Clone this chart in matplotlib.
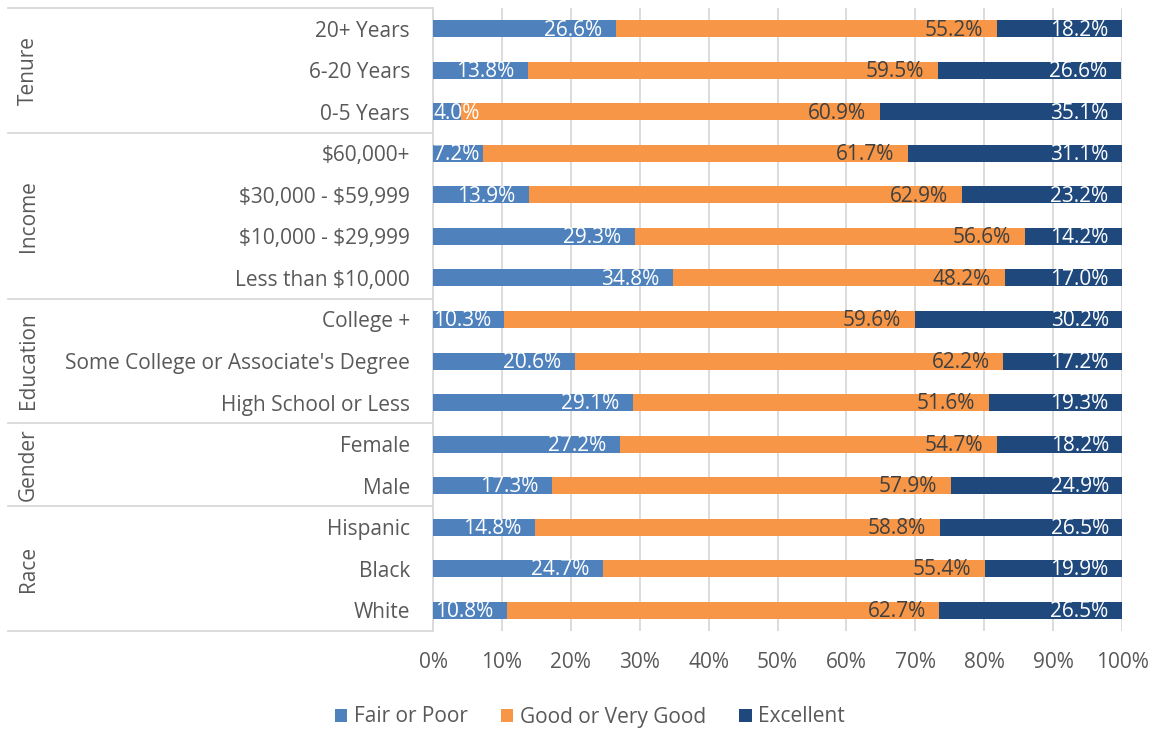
import matplotlib
matplotlib.use('Agg')
import matplotlib.pyplot as plt
import numpy as np

plt.rcParams['font.family'] = ['Open Sans', 'DejaVu Sans']
plt.rcParams['text.parse_math'] = False

# rows listed top to bottom
categories = [
    "20+ Years", "6-20 Years", "0-5 Years",
    "$60,000+", "$30,000 - $59,999", "$10,000 - $29,999", "Less than $10,000",
    "College +", "Some College or Associate's Degree", "High School or Less",
    "Female", "Male",
    "Hispanic", "Black", "White",
]
groups = ["Tenure", "Income", "Education", "Gender", "Race"]
group_sizes = [3, 4, 3, 2, 3]

fair = [26.6, 13.8, 4.0, 7.2, 13.9, 29.3, 34.8, 10.3, 20.6, 29.1, 27.2, 17.3, 14.8, 24.7, 10.8]
good = [55.2, 59.5, 60.9, 61.7, 62.9, 56.6, 48.2, 59.6, 62.2, 51.6, 54.7, 57.9, 58.8, 55.4, 62.7]
excellent = [18.2, 26.6, 35.1, 31.1, 23.2, 14.2, 17.0, 30.2, 17.2, 19.3, 18.2, 24.9, 26.5, 19.9, 26.5]

series = [
    ("Fair or Poor", fair, "#4F81BD", "white"),
    ("Good or Very Good", good, "#F79646", "#404040"),
    ("Excellent", excellent, "#1F497D", "white"),
]

grey = "#595959"
line_grey = "#D9D9D9"
fs = 15
pad = 2.0  # gap between label and segment end, in % units

fig = plt.figure(figsize=(11.52, 7.30), dpi=100)
ax = fig.add_axes([433 / 1152, 1 - 631 / 730, 689 / 1152, 623 / 730])
ax.set_xlim(0, 100)

n = len(categories)
y = np.arange(n)
ax.set_ylim(n - 0.5, -0.5)
renderer = fig.canvas.get_renderer()
px_per_unit = ax.bbox.width / 100

left = np.zeros(n)
for name, vals, color, tcolor in series:
    vals = np.array(vals)
    ax.barh(y, vals, left=left, height=0.41, color=color, label=name, zorder=3)
    for yi, l, v in zip(y, left, vals):
        t = ax.text(l + v - pad, yi + 0.03, f"{v:.1f}%", ha="right", va="center",
                    color=tcolor, fontsize=fs, zorder=4)
        w = t.get_window_extent(renderer).width / px_per_unit
        if l + v - pad - w < 0:
            # keep label inside the plot area, like Excel does
            t.set_x(w)
    left += vals

ax.set_xticks(np.arange(0, 101, 10))
ax.set_xticklabels([f"{t}%" for t in range(0, 101, 10)])
ax.set_yticks(y)
ax.set_yticklabels(categories)
ax.tick_params(axis="both", length=0, colors=grey, labelsize=fs)
ax.tick_params(axis="y", pad=16.5)
ax.tick_params(axis="x", pad=15)
ax.grid(axis="x", color=line_grey, linewidth=1.3, zorder=0)
for s in ["top", "right", "bottom"]:
    ax.spines[s].set_visible(False)
ax.spines["left"].set_color(line_grey)
ax.spines["left"].set_linewidth(1.3)

# group separators and group labels on the left
trans = ax.get_yaxis_transform()
x0 = (8 - 433) / 689
start = -0.5
ax.plot([x0, 0], [start, start], color=line_grey, lw=1.3, transform=trans, clip_on=False)
for g, size in zip(groups, group_sizes):
    end = start + size
    ax.plot([x0, 0], [end, end], color=line_grey, lw=1.3, transform=trans, clip_on=False)
    ax.text((28 - 433) / 689, (start + end) / 2, g, rotation=90, ha="center", va="center",
            color=grey, fontsize=fs, transform=trans)
    start = end

fig.legend(loc="center", bbox_to_anchor=(0.512, 1 - 717 / 730), ncol=3, frameon=False,
           fontsize=fs, labelcolor=grey, handlelength=0.6, handleheight=0.6,
           handletextpad=0.3, columnspacing=1.6)

fig.savefig("out.png", dpi=100)
